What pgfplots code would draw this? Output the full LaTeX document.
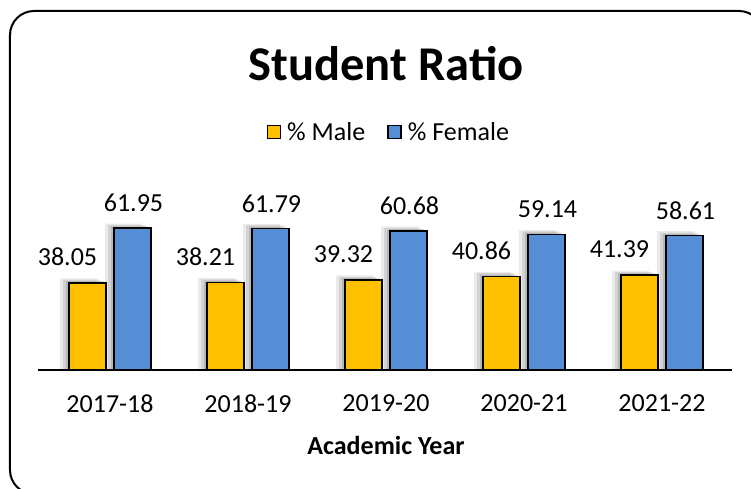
\documentclass[border=0pt]{standalone}
\usepackage{pgfplots}
\pgfplotsset{compat=1.18}
\usepackage{fontspec}
\setmainfont{Carlito}
\definecolor{male}{RGB}{255,192,0}
\definecolor{female}{RGB}{85,142,213}
\begin{document}
\begin{tikzpicture}[x=1pt,y=1pt]
\clip (-41,-119) rectangle (710,370);
\useasboundingbox (-41,-119) rectangle (710,370);
\fill[white] (-41,-119) rectangle (710,370);
\draw[line width=2pt] (722,335) arc[start angle=0, end angle=90, radius=24pt] -- (-7,359)
  arc[start angle=90, end angle=180, radius=24pt] -- (-31,-100)
  arc[start angle=180, end angle=270, radius=24pt] -- (698,-124)
  arc[start angle=270, end angle=360, radius=24pt];
\begin{axis}[
  at={(0,0)}, anchor=south west,
  scale only axis, width=690pt, height=183.4pt,
  xmin=-0.5, xmax=4.5, ymin=0, ymax=80,
  axis x line=bottom, axis y line=none,
  axis line style={line width=1.5pt, -},
  x axis line style={shorten <=-3pt, shorten >=-1pt},
  xtick=data, xticklabels={2017-18,2018-19,2019-20,2020-21,2021-22},
  xtick style={draw=none},
  xticklabel style={font=\fontsize{26}{31}\selectfont, yshift=-17pt},
  ytick=\empty,
  ybar=8pt, bar width=37pt,
  title={\textbf{Student Ratio}},
  title style={font=\fontsize{48.5}{58}\selectfont, at={(0.5,1.64)}, anchor=center},
  xlabel={\textbf{Academic Year}},
  xlabel style={font=\fontsize{26}{31}\selectfont, at={(0.5,0)}, anchor=center, yshift=-75pt},
  legend columns=2,
  legend style={draw=none, fill=none, at={(0.504,1.298)}, anchor=center,
    font=\fontsize{26}{31}\selectfont,
    /tikz/every even column/.append style={column sep=20pt},
    /tikz/every odd column/.append style={column sep=4pt}},
  legend image code/.code={\draw[#1, line width=1.6pt] (0pt,-6.5pt) rectangle (13pt,6.5pt);},
  clip=false,
]
% soft shadows (layered)
\addplot[forget plot, draw=none, fill=black, fill opacity=0.08, bar shift=-31.5pt]
  coordinates {(0,40.0) (1,40.16) (2,41.27) (3,42.81) (4,43.34)};
\addplot[forget plot, draw=none, fill=black, fill opacity=0.10, bar shift=-28.5pt]
  coordinates {(0,39.4) (1,39.56) (2,40.67) (3,42.21) (4,42.74)};
\addplot[forget plot, draw=none, fill=black, fill opacity=0.13, bar shift=-25.5pt]
  coordinates {(0,38.8) (1,38.96) (2,40.07) (3,41.61) (4,42.14)};
\addplot[forget plot, draw=none, fill=black, fill opacity=0.08, bar shift=13.5pt]
  coordinates {(0,63.9) (1,63.74) (2,62.63) (3,61.09) (4,60.56)};
\addplot[forget plot, draw=none, fill=black, fill opacity=0.10, bar shift=16.5pt]
  coordinates {(0,63.3) (1,63.14) (2,62.03) (3,60.49) (4,59.96)};
\addplot[forget plot, draw=none, fill=black, fill opacity=0.13, bar shift=19.5pt]
  coordinates {(0,62.7) (1,62.54) (2,61.43) (3,59.89) (4,59.36)};
\addplot[fill=male, draw=black, line width=1.6pt, bar shift=-22.5pt,
  nodes near coords, point meta=explicit symbolic,
  every node near coord/.append style={font=\fontsize{26}{31}\selectfont, anchor=center, shift={(-20pt,26pt)}, black}]
  coordinates {(0,38.05)[38.05] (1,38.21)[38.21] (2,39.32)[39.32] (3,40.86)[40.86] (4,41.39)[41.39]};
\addplot[fill=female, draw=black, line width=1.6pt, bar shift=22.5pt,
  nodes near coords, point meta=explicit symbolic,
  every node near coord/.append style={font=\fontsize{26}{31}\selectfont, anchor=center, shift={(1pt,25pt)}, black}]
  coordinates {(0,61.95)[61.95] (1,61.79)[61.79] (2,60.68)[60.68] (3,59.14)[59.14] (4,58.61)[58.61]};
\legend{\% Male, \% Female}
\end{axis}
\end{tikzpicture}
\end{document}
